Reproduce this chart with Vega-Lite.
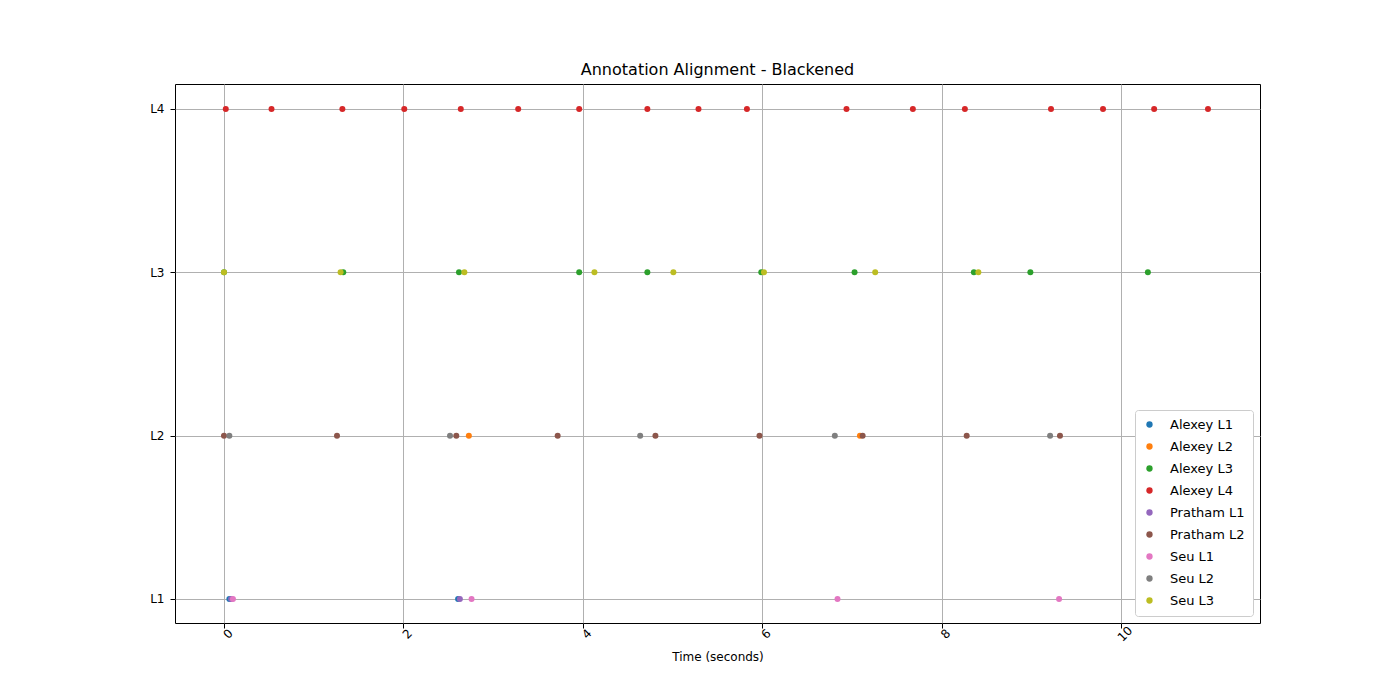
{
  "$schema": "https://vega.github.io/schema/vega-lite/v6.json",
  "width": 1085,
  "height": 539,
  "autosize": {"type": "none"},
  "padding": {"left": 175, "top": 84, "right": 140, "bottom": 77},
  "background": "white",
  "title": {"text": "Annotation Alignment - Blackened", "fontSize": 16, "font": "DejaVu Sans", "fontWeight": "normal", "offset": 6},
  "config": {
    "font": "DejaVu Sans",
    "view": {"stroke": "black", "strokeWidth": 1},
    "axis": {"gridColor": "#b0b0b0", "gridOpacity": 1, "labelFontSize": 12, "titleFontSize": 12, "titleFontWeight": "normal", "domain": false, "tickColor": "black", "labelColor": "black", "titleColor": "black"}
  },
  "data": {
    "values": [
      {"t": 0.02, "lvl": 4, "s": "Alexey L4"}, {"t": 0.53, "lvl": 4, "s": "Alexey L4"}, {"t": 1.32, "lvl": 4, "s": "Alexey L4"}, {"t": 2.01, "lvl": 4, "s": "Alexey L4"}, {"t": 2.64, "lvl": 4, "s": "Alexey L4"}, {"t": 3.28, "lvl": 4, "s": "Alexey L4"}, {"t": 3.96, "lvl": 4, "s": "Alexey L4"}, {"t": 4.72, "lvl": 4, "s": "Alexey L4"}, {"t": 5.29, "lvl": 4, "s": "Alexey L4"}, {"t": 5.83, "lvl": 4, "s": "Alexey L4"}, {"t": 6.94, "lvl": 4, "s": "Alexey L4"}, {"t": 7.68, "lvl": 4, "s": "Alexey L4"}, {"t": 8.26, "lvl": 4, "s": "Alexey L4"}, {"t": 9.22, "lvl": 4, "s": "Alexey L4"}, {"t": 9.8, "lvl": 4, "s": "Alexey L4"}, {"t": 10.37, "lvl": 4, "s": "Alexey L4"}, {"t": 10.97, "lvl": 4, "s": "Alexey L4"},
      {"t": 0.0, "lvl": 3, "s": "Alexey L3"}, {"t": 1.33, "lvl": 3, "s": "Alexey L3"}, {"t": 2.62, "lvl": 3, "s": "Alexey L3"}, {"t": 3.96, "lvl": 3, "s": "Alexey L3"}, {"t": 4.72, "lvl": 3, "s": "Alexey L3"}, {"t": 5.99, "lvl": 3, "s": "Alexey L3"}, {"t": 7.03, "lvl": 3, "s": "Alexey L3"}, {"t": 8.36, "lvl": 3, "s": "Alexey L3"}, {"t": 8.99, "lvl": 3, "s": "Alexey L3"}, {"t": 10.3, "lvl": 3, "s": "Alexey L3"},
      {"t": 0.0, "lvl": 3, "s": "Seu L3"}, {"t": 1.3, "lvl": 3, "s": "Seu L3"}, {"t": 2.68, "lvl": 3, "s": "Seu L3"}, {"t": 4.13, "lvl": 3, "s": "Seu L3"}, {"t": 5.01, "lvl": 3, "s": "Seu L3"}, {"t": 6.02, "lvl": 3, "s": "Seu L3"}, {"t": 7.26, "lvl": 3, "s": "Seu L3"}, {"t": 8.41, "lvl": 3, "s": "Seu L3"},
      {"t": 2.73, "lvl": 2, "s": "Alexey L2"}, {"t": 7.09, "lvl": 2, "s": "Alexey L2"},
      {"t": 0.0, "lvl": 2, "s": "Pratham L2"}, {"t": 1.26, "lvl": 2, "s": "Pratham L2"}, {"t": 2.59, "lvl": 2, "s": "Pratham L2"}, {"t": 3.72, "lvl": 2, "s": "Pratham L2"}, {"t": 4.81, "lvl": 2, "s": "Pratham L2"}, {"t": 5.97, "lvl": 2, "s": "Pratham L2"}, {"t": 7.12, "lvl": 2, "s": "Pratham L2"}, {"t": 8.28, "lvl": 2, "s": "Pratham L2"}, {"t": 9.32, "lvl": 2, "s": "Pratham L2"}, {"t": 10.4, "lvl": 2, "s": "Pratham L2"},
      {"t": 0.06, "lvl": 2, "s": "Seu L2"}, {"t": 2.52, "lvl": 2, "s": "Seu L2"}, {"t": 4.64, "lvl": 2, "s": "Seu L2"}, {"t": 6.81, "lvl": 2, "s": "Seu L2"}, {"t": 9.21, "lvl": 2, "s": "Seu L2"},
      {"t": 0.06, "lvl": 1, "s": "Alexey L1"}, {"t": 2.61, "lvl": 1, "s": "Alexey L1"},
      {"t": 0.08, "lvl": 1, "s": "Pratham L1"}, {"t": 2.63, "lvl": 1, "s": "Pratham L1"},
      {"t": 0.1, "lvl": 1, "s": "Seu L1"}, {"t": 2.76, "lvl": 1, "s": "Seu L1"}, {"t": 6.84, "lvl": 1, "s": "Seu L1"}, {"t": 9.31, "lvl": 1, "s": "Seu L1"}, {"t": 10.38, "lvl": 1, "s": "Seu L1"}
    ]
  },
  "mark": {"type": "circle", "size": 36, "opacity": 1},
  "encoding": {
    "x": {"field": "t", "type": "quantitative", "title": "Time (seconds)",
      "scale": {"domain": [-0.546, 11.55], "nice": false, "zero": false},
      "axis": {"values": [0, 2, 4, 6, 8, 10], "labelAngle": -45, "labelAlign": "center", "labelBaseline": "top", "titlePadding": 8}},
    "y": {"field": "lvl", "type": "quantitative", "title": null,
      "scale": {"domain": [0.853, 4.153], "nice": false, "zero": false},
      "axis": {"values": [1, 2, 3, 4], "labelExpr": "'L' + datum.value", "labelPadding": 6}},
    "color": {"field": "s", "type": "nominal",
      "scale": {"domain": ["Alexey L1", "Alexey L2", "Alexey L3", "Alexey L4", "Pratham L1", "Pratham L2", "Seu L1", "Seu L2", "Seu L3"],
        "range": ["#1f77b4", "#ff7f0e", "#2ca02c", "#d62728", "#9467bd", "#8c564b", "#e377c2", "#7f7f7f", "#bcbd22"]},
      "legend": {"title": null, "orient": "bottom-right", "offset": 7, "labelFontSize": 13, "symbolSize": 40, "rowPadding": 8, "labelOffset": 14,
        "fillColor": "white", "strokeColor": "#cccccc", "padding": 8, "cornerRadius": 3}}
  }
}
